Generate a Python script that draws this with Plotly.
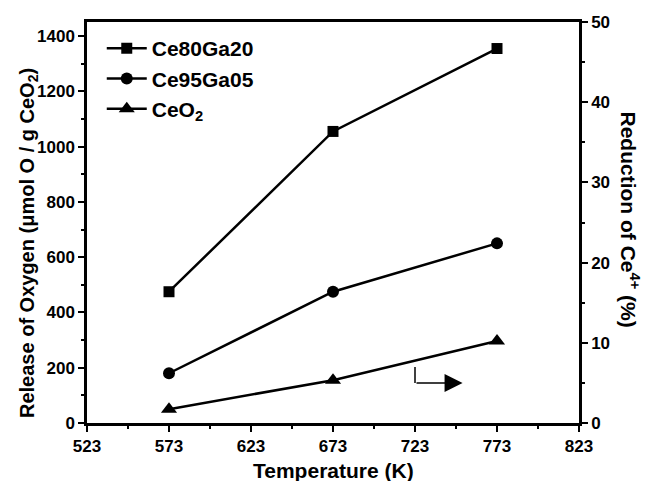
import plotly.graph_objects as go

temperature = [573, 673, 773]
ce80ga20 = [475, 1055, 1355]
ce95ga05 = [180, 475, 650]
ceo2 = [50, 155, 297]

series_names = ["Ce80Ga20", "Ce95Ga05", "CeO<sub>2</sub>"]
series_symbols = ["square", "circle", "triangle-up"]
series_sizes = [11, 12, 14]

x_ticks = [523, 573, 623, 673, 723, 773, 823]
y_ticks = [0, 200, 400, 600, 800, 1000, 1200, 1400]
y2_ticks = [0, 10, 20, 30, 40, 50]

FONT = "Liberation Sans, Arial, sans-serif"

fig = go.Figure()
for name, vals, sym, sz in zip(series_names, [ce80ga20, ce95ga05, ceo2], series_symbols, series_sizes):
    fig.add_trace(go.Scatter(
        x=temperature, y=vals, name=name, mode="lines+markers",
        line=dict(color="black", width=2.5),
        marker=dict(symbol=sym, size=sz, color="black"),
    ))
# empty trace to activate secondary axis
fig.add_trace(go.Scatter(x=[], y=[], yaxis="y2", showlegend=False, hoverinfo="skip"))

axis_common = dict(
    showgrid=False, zeroline=False, showline=True, linecolor="black", linewidth=2.5,
    ticks="outside", ticklen=6, tickwidth=2, tickcolor="black",
    tickfont=dict(family=FONT, size=17, color="black", weight="bold"),
)

fig.update_layout(
    width=654, height=481,
    margin=dict(l=87, r=75, t=22, b=58),
    paper_bgcolor="white", plot_bgcolor="white",
    xaxis=dict(range=[523, 823], tickvals=x_ticks, mirror=True,
               minor=dict(ticks="outside", ticklen=3, tickwidth=2, dtick=25, tick0=523, tickcolor="black"),
               **axis_common),
    yaxis=dict(range=[0, 1451], tickvals=y_ticks,
               minor=dict(ticks="outside", ticklen=3, tickwidth=2, dtick=100, tickcolor="black"),
               **axis_common),
    yaxis2=dict(range=[0, 50], tickvals=y2_ticks, overlaying="y", side="right", anchor="x",
                minor=dict(ticks="outside", ticklen=3, tickwidth=2, dtick=5, tickcolor="black"),
                **axis_common),
    legend=dict(x=0.03, y=0.985, xanchor="left", yanchor="top",
                font=dict(family=FONT, size=21, color="black", weight="bold"),
                bgcolor="rgba(0,0,0,0)", tracegroupgap=0, itemwidth=40),
    showlegend=True,
)

# axis titles
fig.add_annotation(text="<b>Temperature (K)</b>", xref="paper", yref="paper",
                   x=0.5, y=0, yshift=-47, showarrow=False,
                   font=dict(family=FONT, size=21, color="black"), yanchor="middle")
fig.add_annotation(text="<b>Release of Oxygen (μmol O / g CeO<sub>2</sub>)</b>",
                   xref="paper", yref="paper", x=0, xshift=-73, y=0.5, yshift=-21,
                   textangle=-90, showarrow=False,
                   font=dict(family=FONT, size=20, color="black"))
fig.add_annotation(text="<b>Reduction of Ce<sup>4+</sup> (%)</b>",
                   xref="paper", yref="paper", x=1, xshift=66, y=0.5, yshift=3,
                   textangle=90, showarrow=False,
                   font=dict(family=FONT, size=21, color="black"))

# arrow pointing to right axis
fig.add_shape(type="line", x0=723, x1=723, y0=203, y1=145, xref="x", yref="y",
              line=dict(color="black", width=1.5))
fig.add_annotation(x=752, y=145, ax=723, ay=145, xref="x", yref="y", axref="x", ayref="y",
                   showarrow=True, arrowhead=2, arrowsize=2.4, arrowwidth=1.5, arrowcolor="black", text="")

fig.write_html("out.html")
